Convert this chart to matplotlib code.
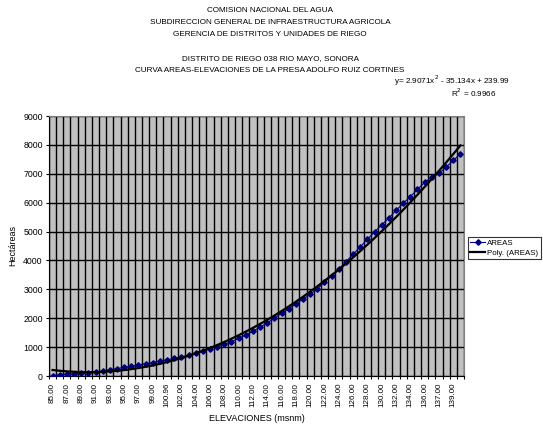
import numpy as np
import matplotlib
matplotlib.use("Agg")
import matplotlib.pyplot as plt

plt.rcParams['font.family'] = ['Liberation Sans', 'DejaVu Sans']

# elevaciones (msnm), una por punto de la curva
elevaciones = ['85.00', '86.00', '87.00', '88.00', '89.00', '90.00', '91.00', '92.00',
               '93.00', '94.00', '95.00', '96.00', '97.00', '98.00', '99.00', '100.00',
               '100.96', '101.00', '102.00', '103.00', '104.00', '105.00', '106.00', '107.00',
               '108.00', '109.00', '110.00', '111.00', '112.00', '113.00', '114.00', '115.00',
               '116.00', '117.00', '118.00', '119.00', '120.00', '121.00', '122.00', '123.00',
               '124.00', '125.00', '126.00', '127.00', '128.00', '129.00', '130.00', '131.00',
               '132.00', '133.00', '134.00', '135.00', '136.00', '136.50', '137.00', '138.00',
               '139.00', '140.00']

# areas (ha)
areas = [15, 45, 60, 75, 95, 115, 140, 175, 215, 255,
         300, 340, 385, 425, 465, 510, 560, 610, 665, 720,
         800, 880, 950, 1020, 1100, 1190, 1300, 1420, 1550, 1690,
         1840, 2000, 2170, 2330, 2500, 2660, 2830, 3010, 3250, 3470,
         3700, 3960, 4210, 4470, 4730, 4990, 5230, 5470, 5730, 5980,
         6210, 6460, 6700, 6880, 7010, 7230, 7460, 7690]

# linea de tendencia polinomica (orden 2)
coef_a = 2.9071
coef_b = -35.134
coef_c = 239.99
r2 = 0.9966

titulos = ["COMISION NACIONAL DEL AGUA",
           "SUBDIRECCION GENERAL DE INFRAESTRUCTURA AGRICOLA",
           "GERENCIA DE DISTRITOS Y UNIDADES DE RIEGO",
           "",
           "DISTRITO DE RIEGO 038 RIO MAYO, SONORA",
           "CURVA AREAS-ELEVACIONES DE LA PRESA ADOLFO RUIZ CORTINES"]

W, H = 543, 432
fig = plt.figure(figsize=(W / 100, H / 100), dpi=100)
ax = fig.add_axes([49 / W, 1 - 376 / H, 415 / W, 260 / H])
ax.set_facecolor('#c0c0c0')

x = np.arange(1, len(areas) + 1)
ax.plot(x, areas, color='#000080', marker='D', ms=2.8, lw=0.8, label='AREAS', zorder=3)

xs = np.linspace(1, len(areas), 300)
ax.plot(xs, coef_a * xs**2 + coef_b * xs + coef_c, color='black', lw=1.6,
        label='Poly. (AREAS)', zorder=4)

ax.set_xlim(0.5, len(areas) + 0.5)
ax.set_ylim(0, 9000)

# etiquetas cada dos categorias, marcas entre categorias
ax.set_xticks(x[::2])
ax.set_xticklabels(elevaciones[::2], rotation=90, fontsize=5.8)
ax.set_xticks(np.arange(0.5, len(areas) + 1, 1), minor=True)
ax.tick_params(axis='x', which='major', length=0, pad=5)
ax.tick_params(axis='x', which='minor', length=5, direction='inout', width=0.8)
ax.set_yticks(np.arange(0, 9001, 1000))
ax.tick_params(axis='y', length=5, direction='inout', width=0.8, labelsize=6.3, pad=2)

ax.grid(True, axis='y', which='major', color='black', lw=1.0, zorder=1)
ax.grid(True, axis='x', which='minor', color='black', lw=1.0, zorder=1)
ax.grid(False, axis='x', which='major')
ax.set_axisbelow(True)

for s in ['top', 'right']:
    ax.spines[s].set_color('#808080')
for s in ['left', 'bottom']:
    ax.spines[s].set_color('black')

ax.set_xlabel("ELEVACIONES (msnm)", fontsize=6.5, labelpad=5)
ax.set_ylabel("Hectáreas", fontsize=6.5, labelpad=4)

for i, t in enumerate(titulos):
    fig.text(270 / W, 1 - (11 + i * 11.8) / H, t, ha='center', va='center', fontsize=5.9)

fig.text(452 / W, 1 - 81 / H, "y= %.4fx$^2$ - %.3fx + %.2f" % (coef_a, -coef_b, coef_c),
         ha='center', va='center', fontsize=5.9)
fig.text(474 / W, 1 - 93 / H, "R$^2$ = %.4f" % r2, ha='center', va='center', fontsize=5.9)

leg = fig.legend(loc='center left', bbox_to_anchor=(468 / W, 1 - 248 / H), fontsize=5.7,
                 frameon=True, fancybox=False, borderpad=0.3, handlelength=1.9,
                 handletextpad=0.2, labelspacing=0.25, borderaxespad=0)
leg.get_frame().set_edgecolor('black')
leg.get_frame().set_linewidth(0.8)

fig.savefig("out.png", dpi=100)
